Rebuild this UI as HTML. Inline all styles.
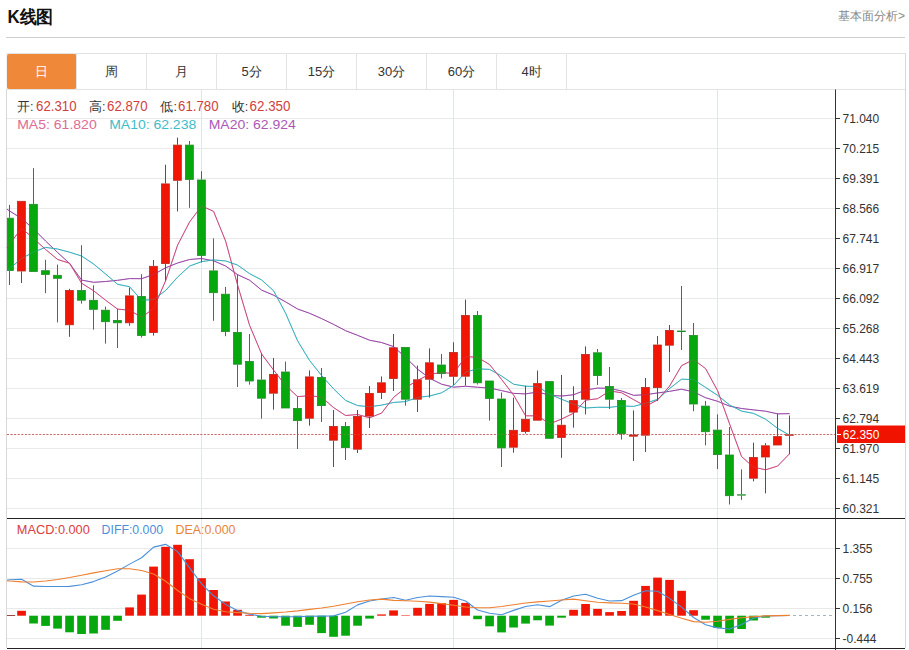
<!DOCTYPE html>
<html><head><meta charset="utf-8"><style>
html,body{margin:0;padding:0;background:#fff;}
body{width:909px;height:650px;overflow:hidden;position:relative;font-family:"Liberation Sans", sans-serif;}
svg{position:absolute;left:0;top:0;}
</style></head><body>
<svg width="909" height="650" viewBox="0 0 909 650" font-family='"Liberation Sans", sans-serif'>
<rect width="909" height="650" fill="#fff"/>
<text x="7.4" y="23" font-size="18" font-weight="bold" fill="#111" textLength="46" lengthAdjust="spacingAndGlyphs">K线图</text>
<text x="905" y="20" font-size="12" fill="#888" text-anchor="end">基本面分析&gt;</text>
<line x1="6" y1="37.5" x2="905" y2="37.5" stroke="#cfcfcf" stroke-width="1"/>
<!-- tabs -->
<rect x="7" y="53.5" width="898.5" height="36" fill="#fff" stroke="#e3e3e3" stroke-width="1"/>
<rect x="7" y="54" width="69.5" height="35" rx="2" fill="#f0883a"/>
<line x1="76.5" y1="54" x2="76.5" y2="89" stroke="#e3e3e3" stroke-width="1"/><line x1="146.5" y1="54" x2="146.5" y2="89" stroke="#e3e3e3" stroke-width="1"/><line x1="216.5" y1="54" x2="216.5" y2="89" stroke="#e3e3e3" stroke-width="1"/><line x1="286.5" y1="54" x2="286.5" y2="89" stroke="#e3e3e3" stroke-width="1"/><line x1="356.5" y1="54" x2="356.5" y2="89" stroke="#e3e3e3" stroke-width="1"/><line x1="426.5" y1="54" x2="426.5" y2="89" stroke="#e3e3e3" stroke-width="1"/><line x1="496.5" y1="54" x2="496.5" y2="89" stroke="#e3e3e3" stroke-width="1"/><line x1="566.5" y1="54" x2="566.5" y2="89" stroke="#e3e3e3" stroke-width="1"/>
<g font-size="13" text-anchor="middle">
<text x="41.5" y="75.8" fill="#fff">日</text>
<text x="111.5" y="75.8" fill="#333">周</text>
<text x="181.5" y="75.8" fill="#333">月</text>
<text x="251.5" y="75.8" fill="#333">5分</text>
<text x="321.5" y="75.8" fill="#333">15分</text>
<text x="391.5" y="75.8" fill="#333">30分</text>
<text x="461.5" y="75.8" fill="#333">60分</text>
<text x="531.5" y="75.8" fill="#333">4时</text>
</g>
<!-- chart frame -->
<line x1="6.5" y1="89.5" x2="6.5" y2="648" stroke="#d8d8d8" stroke-width="1"/>
<line x1="905.5" y1="53" x2="905.5" y2="648" stroke="#d8d8d8" stroke-width="1"/>
<line x1="7" y1="118.5" x2="835" y2="118.5" stroke="#e9e9e9" stroke-width="1"/>
<line x1="7" y1="148.5" x2="835" y2="148.5" stroke="#e9e9e9" stroke-width="1"/>
<line x1="7" y1="178.5" x2="835" y2="178.5" stroke="#e9e9e9" stroke-width="1"/>
<line x1="7" y1="208.5" x2="835" y2="208.5" stroke="#e9e9e9" stroke-width="1"/>
<line x1="7" y1="238.5" x2="835" y2="238.5" stroke="#e9e9e9" stroke-width="1"/>
<line x1="7" y1="268.5" x2="835" y2="268.5" stroke="#e9e9e9" stroke-width="1"/>
<line x1="7" y1="298.5" x2="835" y2="298.5" stroke="#e9e9e9" stroke-width="1"/>
<line x1="7" y1="328.5" x2="835" y2="328.5" stroke="#e9e9e9" stroke-width="1"/>
<line x1="7" y1="358.5" x2="835" y2="358.5" stroke="#e9e9e9" stroke-width="1"/>
<line x1="7" y1="388.5" x2="835" y2="388.5" stroke="#e9e9e9" stroke-width="1"/>
<line x1="7" y1="418.5" x2="835" y2="418.5" stroke="#e9e9e9" stroke-width="1"/>
<line x1="7" y1="448.5" x2="835" y2="448.5" stroke="#e9e9e9" stroke-width="1"/>
<line x1="7" y1="478.5" x2="835" y2="478.5" stroke="#e9e9e9" stroke-width="1"/>
<line x1="7" y1="508.5" x2="835" y2="508.5" stroke="#e9e9e9" stroke-width="1"/>
<line x1="7" y1="548.5" x2="835" y2="548.5" stroke="#e9e9e9" stroke-width="1"/>
<line x1="7" y1="578.5" x2="835" y2="578.5" stroke="#e9e9e9" stroke-width="1"/>
<line x1="7" y1="608.5" x2="835" y2="608.5" stroke="#e9e9e9" stroke-width="1"/>
<line x1="7" y1="638.5" x2="835" y2="638.5" stroke="#e9e9e9" stroke-width="1"/>
<line x1="201.5" y1="90" x2="201.5" y2="648" stroke="#e1e6eb" stroke-width="1"/>
<line x1="453.5" y1="90" x2="453.5" y2="648" stroke="#e1e6eb" stroke-width="1"/>
<line x1="717.5" y1="90" x2="717.5" y2="648" stroke="#e1e6eb" stroke-width="1"/>
<line x1="7" y1="434.5" x2="835" y2="434.5" stroke="#c86a66" stroke-width="1" stroke-dasharray="2,1.58"/>
<polyline points="7,209.2 9.6,211 21.6,218.5 33.6,229 45.6,241 57.6,252.5 69.6,263.5 81.6,280.1 93.6,282.3 105.6,281.5 117.6,280.3 129.6,278.6 141.6,278.7 153.6,274.5 165.6,267.8 177.6,263 189.6,259.5 201.6,258.5 213.6,260.8 225.6,266 237.6,274.68 249.6,280.21 261.6,290.09 273.6,295.19 285.6,301.88 297.6,308.99 309.6,313.31 321.6,318.58 333.6,324.4 345.6,330.69 357.6,335.33 369.6,340.21 381.6,342.53 393.6,346.61 405.6,357.42 417.6,369.15 429.6,378.28 441.6,384.19 453.6,387.13 465.6,386.28 477.6,387.22 489.6,388.08 501.6,390.57 513.6,393.37 525.6,393.89 537.6,392 549.6,395.11 561.6,396.05 573.6,394.76 585.6,390.06 597.6,388.06 609.6,388.39 621.6,390.97 633.6,395.33 645.6,394.7 657.6,392.96 669.6,391.34 681.6,389.24 693.6,391.86 705.6,397.72 717.6,401.31 729.6,406.17 741.6,408.53 753.6,409.89 765.6,411.21 777.6,413.86 789.6,413.64" fill="none" stroke="#9a48a8" stroke-width="1" stroke-linejoin="round"/>
<polyline points="7,270.67 9.6,268.5 21.6,258.5 33.6,252 45.6,247.4 57.6,249 69.6,252.2 81.6,256 93.6,264 105.6,274 117.6,284.28 129.6,286.74 141.6,300.24 153.6,299.64 165.6,290.51 177.6,277.11 189.6,266.09 201.6,261.61 213.6,259.95 225.6,260.94 237.6,265.08 249.6,273.67 261.6,279.94 273.6,290.75 285.6,313.24 297.6,340.87 309.6,360.54 321.6,375.56 333.6,388.85 345.6,400.45 357.6,405.59 369.6,406.75 381.6,405.13 393.6,402.47 405.6,401.59 417.6,397.43 429.6,396.02 441.6,392.82 453.6,385.42 465.6,372.12 477.6,368.84 489.6,369.42 501.6,376.01 513.6,384.26 525.6,386.19 537.6,386.57 549.6,394.2 561.6,399.28 573.6,404.1 585.6,408 597.6,407.28 609.6,407.36 621.6,405.93 633.6,406.4 645.6,403.21 657.6,399.35 669.6,388.48 681.6,379.2 693.6,379.62 705.6,387.43 717.6,395.33 729.6,404.98 741.6,411.14 753.6,413.38 765.6,419.22 777.6,428.38 789.6,435.2" fill="none" stroke="#38b0be" stroke-width="1" stroke-linejoin="round"/>
<polyline points="7,247.4 9.6,244 21.6,228.3 33.6,238.5 45.6,249.5 57.6,259.44 69.6,263.26 81.6,283.2 93.6,290.76 105.6,300.22 117.6,309.12 129.6,310.22 141.6,317.28 153.6,308.52 165.6,280.8 177.6,245.1 189.6,221.96 201.6,205.94 213.6,211.38 225.6,241.08 237.6,285.06 249.6,325.38 261.6,353.94 273.6,370.12 285.6,385.4 297.6,396.68 309.6,395.7 321.6,397.18 333.6,407.58 345.6,415.5 357.6,414.5 369.6,417.8 381.6,413.08 393.6,397.36 405.6,387.68 417.6,380.36 429.6,374.24 441.6,372.56 453.6,373.48 465.6,356.56 477.6,357.32 489.6,364.6 501.6,379.46 513.6,395.04 525.6,415.82 537.6,415.82 549.6,423.8 561.6,419.1 573.6,413.16 585.6,400.18 597.6,398.74 609.6,390.92 621.6,392.76 633.6,399.64 645.6,406.24 657.6,399.96 669.6,386.04 681.6,365.64 693.6,359.6 705.6,368.62 717.6,390.7 729.6,423.92 741.6,456.64 753.6,467.16 765.6,469.82 777.6,466.06 789.6,453.7" fill="none" stroke="#cc4a80" stroke-width="1" stroke-linejoin="round"/>
<g shape-rendering="crispEdges">
</g>
<line x1="9.5" y1="204.9" x2="9.5" y2="217.8" stroke="#1f8a26" stroke-width="1"/>
<line x1="9.5" y1="270.9" x2="9.5" y2="285" stroke="#1f8a26" stroke-width="1"/>
<rect x="7.4" y="218.2" width="5.95" height="52.3" fill="#06a80e" stroke="#1f8a26" stroke-width="0.8"/>
<line x1="21.5" y1="271.4" x2="21.5" y2="283" stroke="#b8281e" stroke-width="1"/>
<rect x="17.5" y="201.3" width="7.85" height="69.7" fill="#f01505" stroke="#b8281e" stroke-width="0.8"/>
<line x1="33.5" y1="168.2" x2="33.5" y2="203.9" stroke="#1f8a26" stroke-width="1"/>
<rect x="29.5" y="204.3" width="7.85" height="67.2" fill="#06a80e" stroke="#1f8a26" stroke-width="0.8"/>
<line x1="45.5" y1="259.8" x2="45.5" y2="270.3" stroke="#1f8a26" stroke-width="1"/>
<line x1="45.5" y1="274.8" x2="45.5" y2="293.1" stroke="#1f8a26" stroke-width="1"/>
<rect x="41.5" y="270.7" width="7.85" height="3.7" fill="#06a80e" stroke="#1f8a26" stroke-width="0.8"/>
<line x1="57.5" y1="264.6" x2="57.5" y2="274.9" stroke="#1f8a26" stroke-width="1"/>
<line x1="57.5" y1="278.7" x2="57.5" y2="322.4" stroke="#1f8a26" stroke-width="1"/>
<rect x="53.5" y="275.3" width="7.85" height="3" fill="#06a80e" stroke="#1f8a26" stroke-width="0.8"/>
<line x1="69.5" y1="288.8" x2="69.5" y2="290" stroke="#b8281e" stroke-width="1"/>
<line x1="69.5" y1="325.2" x2="69.5" y2="336.8" stroke="#b8281e" stroke-width="1"/>
<rect x="65.5" y="290.4" width="7.85" height="34.4" fill="#f01505" stroke="#b8281e" stroke-width="0.8"/>
<line x1="81.5" y1="245.2" x2="81.5" y2="290.1" stroke="#1f8a26" stroke-width="1"/>
<line x1="81.5" y1="300.6" x2="81.5" y2="303.6" stroke="#1f8a26" stroke-width="1"/>
<rect x="77.5" y="290.5" width="7.85" height="9.7" fill="#06a80e" stroke="#1f8a26" stroke-width="0.8"/>
<line x1="93.5" y1="285.3" x2="93.5" y2="299.9" stroke="#1f8a26" stroke-width="1"/>
<line x1="93.5" y1="309.7" x2="93.5" y2="329.7" stroke="#1f8a26" stroke-width="1"/>
<rect x="89.5" y="300.3" width="7.85" height="9" fill="#06a80e" stroke="#1f8a26" stroke-width="0.8"/>
<line x1="105.5" y1="306.6" x2="105.5" y2="309.8" stroke="#1f8a26" stroke-width="1"/>
<line x1="105.5" y1="322.1" x2="105.5" y2="343.6" stroke="#1f8a26" stroke-width="1"/>
<rect x="101.5" y="310.2" width="7.85" height="11.5" fill="#06a80e" stroke="#1f8a26" stroke-width="0.8"/>
<line x1="117.5" y1="308.8" x2="117.5" y2="320" stroke="#1f8a26" stroke-width="1"/>
<line x1="117.5" y1="323.2" x2="117.5" y2="348" stroke="#1f8a26" stroke-width="1"/>
<rect x="113.5" y="320.4" width="7.85" height="2.4" fill="#06a80e" stroke="#1f8a26" stroke-width="0.8"/>
<line x1="129.5" y1="287.6" x2="129.5" y2="295.5" stroke="#b8281e" stroke-width="1"/>
<line x1="129.5" y1="323.2" x2="129.5" y2="325.8" stroke="#b8281e" stroke-width="1"/>
<rect x="125.5" y="295.9" width="7.85" height="26.9" fill="#f01505" stroke="#b8281e" stroke-width="0.8"/>
<line x1="141.5" y1="274.2" x2="141.5" y2="296" stroke="#1f8a26" stroke-width="1"/>
<line x1="141.5" y1="335.9" x2="141.5" y2="337.5" stroke="#1f8a26" stroke-width="1"/>
<rect x="137.5" y="296.4" width="7.85" height="39.1" fill="#06a80e" stroke="#1f8a26" stroke-width="0.8"/>
<line x1="153.5" y1="260" x2="153.5" y2="265.9" stroke="#b8281e" stroke-width="1"/>
<line x1="153.5" y1="333" x2="153.5" y2="335.6" stroke="#b8281e" stroke-width="1"/>
<rect x="149.5" y="266.3" width="7.85" height="66.3" fill="#f01505" stroke="#b8281e" stroke-width="0.8"/>
<line x1="165.5" y1="164.7" x2="165.5" y2="183.5" stroke="#b8281e" stroke-width="1"/>
<line x1="165.5" y1="264" x2="165.5" y2="280.8" stroke="#b8281e" stroke-width="1"/>
<rect x="161.5" y="183.9" width="7.85" height="79.7" fill="#f01505" stroke="#b8281e" stroke-width="0.8"/>
<line x1="177.5" y1="137.6" x2="177.5" y2="144.7" stroke="#b8281e" stroke-width="1"/>
<line x1="177.5" y1="180.7" x2="177.5" y2="211.5" stroke="#b8281e" stroke-width="1"/>
<rect x="173.5" y="145.1" width="7.85" height="35.2" fill="#f01505" stroke="#b8281e" stroke-width="0.8"/>
<line x1="189.5" y1="141" x2="189.5" y2="144.7" stroke="#1f8a26" stroke-width="1"/>
<line x1="189.5" y1="179.8" x2="189.5" y2="207.8" stroke="#1f8a26" stroke-width="1"/>
<rect x="185.5" y="145.1" width="7.85" height="34.3" fill="#06a80e" stroke="#1f8a26" stroke-width="0.8"/>
<line x1="201.5" y1="171.2" x2="201.5" y2="179.6" stroke="#1f8a26" stroke-width="1"/>
<line x1="201.5" y1="255.8" x2="201.5" y2="262.5" stroke="#1f8a26" stroke-width="1"/>
<rect x="197.5" y="180" width="7.85" height="75.4" fill="#06a80e" stroke="#1f8a26" stroke-width="0.8"/>
<line x1="213.5" y1="238.4" x2="213.5" y2="270.5" stroke="#1f8a26" stroke-width="1"/>
<line x1="213.5" y1="293.1" x2="213.5" y2="320.8" stroke="#1f8a26" stroke-width="1"/>
<rect x="209.5" y="270.9" width="7.85" height="21.8" fill="#06a80e" stroke="#1f8a26" stroke-width="0.8"/>
<line x1="225.5" y1="286.9" x2="225.5" y2="293.8" stroke="#1f8a26" stroke-width="1"/>
<line x1="225.5" y1="332" x2="225.5" y2="336.2" stroke="#1f8a26" stroke-width="1"/>
<rect x="221.5" y="294.2" width="7.85" height="37.4" fill="#06a80e" stroke="#1f8a26" stroke-width="0.8"/>
<line x1="237.5" y1="274.6" x2="237.5" y2="332" stroke="#1f8a26" stroke-width="1"/>
<line x1="237.5" y1="364.6" x2="237.5" y2="387" stroke="#1f8a26" stroke-width="1"/>
<rect x="233.5" y="332.4" width="7.85" height="31.8" fill="#06a80e" stroke="#1f8a26" stroke-width="0.8"/>
<line x1="249.5" y1="334" x2="249.5" y2="361" stroke="#1f8a26" stroke-width="1"/>
<line x1="249.5" y1="381.4" x2="249.5" y2="384.6" stroke="#1f8a26" stroke-width="1"/>
<rect x="245.5" y="361.4" width="7.85" height="19.6" fill="#06a80e" stroke="#1f8a26" stroke-width="0.8"/>
<line x1="261.5" y1="353" x2="261.5" y2="379.6" stroke="#1f8a26" stroke-width="1"/>
<line x1="261.5" y1="398.6" x2="261.5" y2="418.6" stroke="#1f8a26" stroke-width="1"/>
<rect x="257.5" y="380" width="7.85" height="18.2" fill="#06a80e" stroke="#1f8a26" stroke-width="0.8"/>
<line x1="273.5" y1="358" x2="273.5" y2="374" stroke="#b8281e" stroke-width="1"/>
<line x1="273.5" y1="393.6" x2="273.5" y2="409.6" stroke="#b8281e" stroke-width="1"/>
<rect x="269.5" y="374.4" width="7.85" height="18.8" fill="#f01505" stroke="#b8281e" stroke-width="0.8"/>
<line x1="285.5" y1="361.6" x2="285.5" y2="371.6" stroke="#1f8a26" stroke-width="1"/>
<rect x="281.5" y="372" width="7.85" height="36" fill="#06a80e" stroke="#1f8a26" stroke-width="0.8"/>
<line x1="297.5" y1="396.5" x2="297.5" y2="408" stroke="#1f8a26" stroke-width="1"/>
<line x1="297.5" y1="421" x2="297.5" y2="449" stroke="#1f8a26" stroke-width="1"/>
<rect x="293.5" y="408.4" width="7.85" height="12.2" fill="#06a80e" stroke="#1f8a26" stroke-width="0.8"/>
<line x1="309.5" y1="370.4" x2="309.5" y2="376.5" stroke="#b8281e" stroke-width="1"/>
<line x1="309.5" y1="418.6" x2="309.5" y2="425.6" stroke="#b8281e" stroke-width="1"/>
<rect x="305.5" y="376.9" width="7.85" height="41.3" fill="#f01505" stroke="#b8281e" stroke-width="0.8"/>
<line x1="321.5" y1="368" x2="321.5" y2="377" stroke="#1f8a26" stroke-width="1"/>
<line x1="321.5" y1="406" x2="321.5" y2="422" stroke="#1f8a26" stroke-width="1"/>
<rect x="317.5" y="377.4" width="7.85" height="28.2" fill="#06a80e" stroke="#1f8a26" stroke-width="0.8"/>
<line x1="333.5" y1="410" x2="333.5" y2="426" stroke="#b8281e" stroke-width="1"/>
<line x1="333.5" y1="440.6" x2="333.5" y2="467" stroke="#b8281e" stroke-width="1"/>
<rect x="329.5" y="426.4" width="7.85" height="13.8" fill="#f01505" stroke="#b8281e" stroke-width="0.8"/>
<line x1="345.5" y1="422" x2="345.5" y2="426" stroke="#1f8a26" stroke-width="1"/>
<line x1="345.5" y1="448" x2="345.5" y2="460" stroke="#1f8a26" stroke-width="1"/>
<rect x="341.5" y="426.4" width="7.85" height="21.2" fill="#06a80e" stroke="#1f8a26" stroke-width="0.8"/>
<line x1="357.5" y1="410" x2="357.5" y2="416" stroke="#b8281e" stroke-width="1"/>
<line x1="357.5" y1="449.6" x2="357.5" y2="453" stroke="#b8281e" stroke-width="1"/>
<rect x="353.5" y="416.4" width="7.85" height="32.8" fill="#f01505" stroke="#b8281e" stroke-width="0.8"/>
<line x1="369.5" y1="386" x2="369.5" y2="393" stroke="#b8281e" stroke-width="1"/>
<line x1="369.5" y1="416.5" x2="369.5" y2="428" stroke="#b8281e" stroke-width="1"/>
<rect x="365.5" y="393.4" width="7.85" height="22.7" fill="#f01505" stroke="#b8281e" stroke-width="0.8"/>
<line x1="381.5" y1="376.4" x2="381.5" y2="382.4" stroke="#b8281e" stroke-width="1"/>
<line x1="381.5" y1="393" x2="381.5" y2="399" stroke="#b8281e" stroke-width="1"/>
<rect x="377.5" y="382.8" width="7.85" height="9.8" fill="#f01505" stroke="#b8281e" stroke-width="0.8"/>
<line x1="393.5" y1="334" x2="393.5" y2="347.4" stroke="#b8281e" stroke-width="1"/>
<line x1="393.5" y1="379" x2="393.5" y2="391" stroke="#b8281e" stroke-width="1"/>
<rect x="389.5" y="347.8" width="7.85" height="30.8" fill="#f01505" stroke="#b8281e" stroke-width="0.8"/>
<line x1="405.5" y1="399.6" x2="405.5" y2="405.6" stroke="#1f8a26" stroke-width="1"/>
<rect x="401.5" y="347.4" width="7.85" height="51.8" fill="#06a80e" stroke="#1f8a26" stroke-width="0.8"/>
<line x1="417.5" y1="365.6" x2="417.5" y2="379.4" stroke="#b8281e" stroke-width="1"/>
<line x1="417.5" y1="399.6" x2="417.5" y2="412" stroke="#b8281e" stroke-width="1"/>
<rect x="413.5" y="379.8" width="7.85" height="19.4" fill="#f01505" stroke="#b8281e" stroke-width="0.8"/>
<line x1="429.5" y1="348.4" x2="429.5" y2="362.4" stroke="#b8281e" stroke-width="1"/>
<line x1="429.5" y1="379.6" x2="429.5" y2="397.6" stroke="#b8281e" stroke-width="1"/>
<rect x="425.5" y="362.8" width="7.85" height="16.4" fill="#f01505" stroke="#b8281e" stroke-width="0.8"/>
<line x1="441.5" y1="354" x2="441.5" y2="364.6" stroke="#1f8a26" stroke-width="1"/>
<line x1="441.5" y1="374" x2="441.5" y2="378.4" stroke="#1f8a26" stroke-width="1"/>
<rect x="437.5" y="365" width="7.85" height="8.6" fill="#06a80e" stroke="#1f8a26" stroke-width="0.8"/>
<line x1="453.5" y1="342.2" x2="453.5" y2="352" stroke="#b8281e" stroke-width="1"/>
<line x1="453.5" y1="376.7" x2="453.5" y2="385" stroke="#b8281e" stroke-width="1"/>
<rect x="449.5" y="352.4" width="7.85" height="23.9" fill="#f01505" stroke="#b8281e" stroke-width="0.8"/>
<line x1="465.5" y1="299.6" x2="465.5" y2="315" stroke="#b8281e" stroke-width="1"/>
<line x1="465.5" y1="376.6" x2="465.5" y2="385.6" stroke="#b8281e" stroke-width="1"/>
<rect x="461.5" y="315.4" width="7.85" height="60.8" fill="#f01505" stroke="#b8281e" stroke-width="0.8"/>
<line x1="477.5" y1="311" x2="477.5" y2="315" stroke="#1f8a26" stroke-width="1"/>
<line x1="477.5" y1="383.2" x2="477.5" y2="384.5" stroke="#1f8a26" stroke-width="1"/>
<rect x="473.5" y="315.4" width="7.85" height="67.4" fill="#06a80e" stroke="#1f8a26" stroke-width="0.8"/>
<line x1="489.5" y1="398.8" x2="489.5" y2="420.6" stroke="#1f8a26" stroke-width="1"/>
<rect x="485.5" y="381" width="7.85" height="17.4" fill="#06a80e" stroke="#1f8a26" stroke-width="0.8"/>
<line x1="501.5" y1="392.5" x2="501.5" y2="398.6" stroke="#1f8a26" stroke-width="1"/>
<line x1="501.5" y1="448.3" x2="501.5" y2="467" stroke="#1f8a26" stroke-width="1"/>
<rect x="497.5" y="399" width="7.85" height="48.9" fill="#06a80e" stroke="#1f8a26" stroke-width="0.8"/>
<line x1="513.5" y1="397.6" x2="513.5" y2="429.9" stroke="#b8281e" stroke-width="1"/>
<line x1="513.5" y1="447.6" x2="513.5" y2="452.7" stroke="#b8281e" stroke-width="1"/>
<rect x="509.5" y="430.3" width="7.85" height="16.9" fill="#f01505" stroke="#b8281e" stroke-width="0.8"/>
<line x1="525.5" y1="385.7" x2="525.5" y2="418.9" stroke="#b8281e" stroke-width="1"/>
<line x1="525.5" y1="431.9" x2="525.5" y2="433.6" stroke="#b8281e" stroke-width="1"/>
<rect x="521.5" y="419.3" width="7.85" height="12.2" fill="#f01505" stroke="#b8281e" stroke-width="0.8"/>
<line x1="537.5" y1="370.5" x2="537.5" y2="383.2" stroke="#b8281e" stroke-width="1"/>
<rect x="533.5" y="383.6" width="7.85" height="36.6" fill="#f01505" stroke="#b8281e" stroke-width="0.8"/>
<rect x="545.5" y="381.6" width="7.85" height="56.7" fill="#06a80e" stroke="#1f8a26" stroke-width="0.8"/>
<line x1="561.5" y1="374.9" x2="561.5" y2="424.8" stroke="#b8281e" stroke-width="1"/>
<line x1="561.5" y1="437.8" x2="561.5" y2="457.8" stroke="#b8281e" stroke-width="1"/>
<rect x="557.5" y="425.2" width="7.85" height="12.2" fill="#f01505" stroke="#b8281e" stroke-width="0.8"/>
<line x1="573.5" y1="386.3" x2="573.5" y2="400.2" stroke="#b8281e" stroke-width="1"/>
<line x1="573.5" y1="412.5" x2="573.5" y2="427.7" stroke="#b8281e" stroke-width="1"/>
<rect x="569.5" y="400.6" width="7.85" height="11.5" fill="#f01505" stroke="#b8281e" stroke-width="0.8"/>
<line x1="585.5" y1="346.4" x2="585.5" y2="354" stroke="#b8281e" stroke-width="1"/>
<line x1="585.5" y1="399.6" x2="585.5" y2="414.4" stroke="#b8281e" stroke-width="1"/>
<rect x="581.5" y="354.4" width="7.85" height="44.8" fill="#f01505" stroke="#b8281e" stroke-width="0.8"/>
<line x1="597.5" y1="349" x2="597.5" y2="352.4" stroke="#1f8a26" stroke-width="1"/>
<line x1="597.5" y1="376" x2="597.5" y2="385" stroke="#1f8a26" stroke-width="1"/>
<rect x="593.5" y="352.8" width="7.85" height="22.8" fill="#06a80e" stroke="#1f8a26" stroke-width="0.8"/>
<line x1="609.5" y1="367" x2="609.5" y2="386" stroke="#1f8a26" stroke-width="1"/>
<line x1="609.5" y1="399.6" x2="609.5" y2="409" stroke="#1f8a26" stroke-width="1"/>
<rect x="605.5" y="386.4" width="7.85" height="12.8" fill="#06a80e" stroke="#1f8a26" stroke-width="0.8"/>
<line x1="621.5" y1="398" x2="621.5" y2="400" stroke="#1f8a26" stroke-width="1"/>
<line x1="621.5" y1="434" x2="621.5" y2="439.6" stroke="#1f8a26" stroke-width="1"/>
<rect x="617.5" y="400.4" width="7.85" height="33.2" fill="#06a80e" stroke="#1f8a26" stroke-width="0.8"/>
<line x1="633.5" y1="410.4" x2="633.5" y2="434.6" stroke="#b8281e" stroke-width="1"/>
<line x1="633.5" y1="436.6" x2="633.5" y2="461" stroke="#b8281e" stroke-width="1"/>
<rect x="629.5" y="435" width="7.85" height="1.2" fill="#f01505" stroke="#b8281e" stroke-width="0.8"/>
<line x1="645.5" y1="378" x2="645.5" y2="387" stroke="#b8281e" stroke-width="1"/>
<line x1="645.5" y1="435.6" x2="645.5" y2="452" stroke="#b8281e" stroke-width="1"/>
<rect x="641.5" y="387.4" width="7.85" height="47.8" fill="#f01505" stroke="#b8281e" stroke-width="0.8"/>
<line x1="657.5" y1="336" x2="657.5" y2="344.6" stroke="#b8281e" stroke-width="1"/>
<line x1="657.5" y1="388" x2="657.5" y2="401" stroke="#b8281e" stroke-width="1"/>
<rect x="653.5" y="345" width="7.85" height="42.6" fill="#f01505" stroke="#b8281e" stroke-width="0.8"/>
<line x1="669.5" y1="325" x2="669.5" y2="330" stroke="#b8281e" stroke-width="1"/>
<line x1="669.5" y1="345.6" x2="669.5" y2="372" stroke="#b8281e" stroke-width="1"/>
<rect x="665.5" y="330.4" width="7.85" height="14.8" fill="#f01505" stroke="#b8281e" stroke-width="0.8"/>
<line x1="681.5" y1="286" x2="681.5" y2="330.6" stroke="#1f8a26" stroke-width="1"/>
<line x1="681.5" y1="332" x2="681.5" y2="350" stroke="#1f8a26" stroke-width="1"/>
<rect x="677.1" y="330.6" width="8.65" height="1.4" fill="#1f8a26"/>
<line x1="693.5" y1="323" x2="693.5" y2="335" stroke="#1f8a26" stroke-width="1"/>
<line x1="693.5" y1="404.4" x2="693.5" y2="411.2" stroke="#1f8a26" stroke-width="1"/>
<rect x="689.5" y="335.4" width="7.85" height="68.6" fill="#06a80e" stroke="#1f8a26" stroke-width="0.8"/>
<line x1="705.5" y1="401" x2="705.5" y2="405.7" stroke="#1f8a26" stroke-width="1"/>
<line x1="705.5" y1="432.1" x2="705.5" y2="445.4" stroke="#1f8a26" stroke-width="1"/>
<rect x="701.5" y="406.1" width="7.85" height="25.6" fill="#06a80e" stroke="#1f8a26" stroke-width="0.8"/>
<line x1="717.5" y1="414.4" x2="717.5" y2="429.7" stroke="#1f8a26" stroke-width="1"/>
<line x1="717.5" y1="455" x2="717.5" y2="469" stroke="#1f8a26" stroke-width="1"/>
<rect x="713.5" y="430.1" width="7.85" height="24.5" fill="#06a80e" stroke="#1f8a26" stroke-width="0.8"/>
<line x1="729.5" y1="427" x2="729.5" y2="454.6" stroke="#1f8a26" stroke-width="1"/>
<line x1="729.5" y1="496.1" x2="729.5" y2="504.5" stroke="#1f8a26" stroke-width="1"/>
<rect x="725.5" y="455" width="7.85" height="40.7" fill="#06a80e" stroke="#1f8a26" stroke-width="0.8"/>
<line x1="741.5" y1="469.4" x2="741.5" y2="494.3" stroke="#1f8a26" stroke-width="1"/>
<line x1="741.5" y1="495.6" x2="741.5" y2="499.8" stroke="#1f8a26" stroke-width="1"/>
<rect x="737.1" y="494.3" width="8.65" height="1.3" fill="#1f8a26"/>
<line x1="753.5" y1="442.6" x2="753.5" y2="457" stroke="#b8281e" stroke-width="1"/>
<line x1="753.5" y1="478.6" x2="753.5" y2="481.4" stroke="#b8281e" stroke-width="1"/>
<rect x="749.5" y="457.4" width="7.85" height="20.8" fill="#f01505" stroke="#b8281e" stroke-width="0.8"/>
<line x1="765.5" y1="443.2" x2="765.5" y2="445.4" stroke="#b8281e" stroke-width="1"/>
<line x1="765.5" y1="457.4" x2="765.5" y2="493.4" stroke="#b8281e" stroke-width="1"/>
<rect x="761.5" y="445.8" width="7.85" height="11.2" fill="#f01505" stroke="#b8281e" stroke-width="0.8"/>
<line x1="777.5" y1="413.6" x2="777.5" y2="436.2" stroke="#b8281e" stroke-width="1"/>
<rect x="773.5" y="436.6" width="7.85" height="8.4" fill="#f01505" stroke="#b8281e" stroke-width="0.8"/>
<line x1="789.5" y1="415.5" x2="789.5" y2="434.3" stroke="#b8281e" stroke-width="1"/>
<line x1="789.5" y1="435.8" x2="789.5" y2="454.2" stroke="#b8281e" stroke-width="1"/>
<rect x="785.1" y="434.3" width="8.65" height="1.5" fill="#b8281e"/>
<g opacity="0.35">
<polyline points="7,209.2 9.6,211 21.6,218.5 33.6,229 45.6,241 57.6,252.5 69.6,263.5 81.6,280.1 93.6,282.3 105.6,281.5 117.6,280.3 129.6,278.6 141.6,278.7 153.6,274.5 165.6,267.8 177.6,263 189.6,259.5 201.6,258.5 213.6,260.8 225.6,266 237.6,274.68 249.6,280.21 261.6,290.09 273.6,295.19 285.6,301.88 297.6,308.99 309.6,313.31 321.6,318.58 333.6,324.4 345.6,330.69 357.6,335.33 369.6,340.21 381.6,342.53 393.6,346.61 405.6,357.42 417.6,369.15 429.6,378.28 441.6,384.19 453.6,387.13 465.6,386.28 477.6,387.22 489.6,388.08 501.6,390.57 513.6,393.37 525.6,393.89 537.6,392 549.6,395.11 561.6,396.05 573.6,394.76 585.6,390.06 597.6,388.06 609.6,388.39 621.6,390.97 633.6,395.33 645.6,394.7 657.6,392.96 669.6,391.34 681.6,389.24 693.6,391.86 705.6,397.72 717.6,401.31 729.6,406.17 741.6,408.53 753.6,409.89 765.6,411.21 777.6,413.86 789.6,413.64" fill="none" stroke="#9a48a8" stroke-width="1" stroke-linejoin="round"/>
<polyline points="7,270.67 9.6,268.5 21.6,258.5 33.6,252 45.6,247.4 57.6,249 69.6,252.2 81.6,256 93.6,264 105.6,274 117.6,284.28 129.6,286.74 141.6,300.24 153.6,299.64 165.6,290.51 177.6,277.11 189.6,266.09 201.6,261.61 213.6,259.95 225.6,260.94 237.6,265.08 249.6,273.67 261.6,279.94 273.6,290.75 285.6,313.24 297.6,340.87 309.6,360.54 321.6,375.56 333.6,388.85 345.6,400.45 357.6,405.59 369.6,406.75 381.6,405.13 393.6,402.47 405.6,401.59 417.6,397.43 429.6,396.02 441.6,392.82 453.6,385.42 465.6,372.12 477.6,368.84 489.6,369.42 501.6,376.01 513.6,384.26 525.6,386.19 537.6,386.57 549.6,394.2 561.6,399.28 573.6,404.1 585.6,408 597.6,407.28 609.6,407.36 621.6,405.93 633.6,406.4 645.6,403.21 657.6,399.35 669.6,388.48 681.6,379.2 693.6,379.62 705.6,387.43 717.6,395.33 729.6,404.98 741.6,411.14 753.6,413.38 765.6,419.22 777.6,428.38 789.6,435.2" fill="none" stroke="#38b0be" stroke-width="1" stroke-linejoin="round"/>
<polyline points="7,247.4 9.6,244 21.6,228.3 33.6,238.5 45.6,249.5 57.6,259.44 69.6,263.26 81.6,283.2 93.6,290.76 105.6,300.22 117.6,309.12 129.6,310.22 141.6,317.28 153.6,308.52 165.6,280.8 177.6,245.1 189.6,221.96 201.6,205.94 213.6,211.38 225.6,241.08 237.6,285.06 249.6,325.38 261.6,353.94 273.6,370.12 285.6,385.4 297.6,396.68 309.6,395.7 321.6,397.18 333.6,407.58 345.6,415.5 357.6,414.5 369.6,417.8 381.6,413.08 393.6,397.36 405.6,387.68 417.6,380.36 429.6,374.24 441.6,372.56 453.6,373.48 465.6,356.56 477.6,357.32 489.6,364.6 501.6,379.46 513.6,395.04 525.6,415.82 537.6,415.82 549.6,423.8 561.6,419.1 573.6,413.16 585.6,400.18 597.6,398.74 609.6,390.92 621.6,392.76 633.6,399.64 645.6,406.24 657.6,399.96 669.6,386.04 681.6,365.64 693.6,359.6 705.6,368.62 717.6,390.7 729.6,423.92 741.6,456.64 753.6,467.16 765.6,469.82 777.6,466.06 789.6,453.7" fill="none" stroke="#cc4a80" stroke-width="1" stroke-linejoin="round"/>
</g>
<line x1="7" y1="434.5" x2="835" y2="434.5" stroke="#c86a66" stroke-width="1" stroke-dasharray="2,1.58" opacity="0.35"/>
<rect x="7" y="615" width="8.2" height="1" fill="#9a4a40"/>
<rect x="17.2" y="610.8" width="8.7" height="4.9" fill="#f01505"/>
<rect x="29.2" y="615.7" width="8.7" height="7.8" fill="#06a80e"/>
<rect x="41.2" y="615.7" width="8.7" height="10.2" fill="#06a80e"/>
<rect x="53.2" y="615.7" width="8.7" height="12.9" fill="#06a80e"/>
<rect x="65.2" y="615.7" width="8.7" height="16.6" fill="#06a80e"/>
<rect x="77.2" y="615.7" width="8.7" height="18.3" fill="#06a80e"/>
<rect x="89.2" y="615.7" width="8.7" height="17.8" fill="#06a80e"/>
<rect x="101.2" y="615.7" width="8.7" height="14.1" fill="#06a80e"/>
<rect x="113.2" y="615.7" width="8.7" height="5.1" fill="#06a80e"/>
<rect x="125.2" y="607.4" width="8.7" height="8.3" fill="#f01505"/>
<rect x="137.2" y="594.6" width="8.7" height="21.1" fill="#f01505"/>
<rect x="149.2" y="566.6" width="8.7" height="49.1" fill="#f01505"/>
<rect x="161.2" y="546.8" width="8.7" height="68.9" fill="#f01505"/>
<rect x="173.2" y="544.8" width="8.7" height="70.9" fill="#f01505"/>
<rect x="185.2" y="559.2" width="8.7" height="56.5" fill="#f01505"/>
<rect x="197.2" y="578.2" width="8.7" height="37.5" fill="#f01505"/>
<rect x="209.2" y="590" width="8.7" height="25.7" fill="#f01505"/>
<rect x="221.2" y="601.5" width="8.7" height="14.2" fill="#f01505"/>
<rect x="233.2" y="609.8" width="8.7" height="5.9" fill="#f01505"/>
<rect x="245.2" y="614.8" width="8.7" height="0.9" fill="#f01505"/>
<rect x="257.2" y="615.7" width="8.7" height="2" fill="#06a80e"/>
<rect x="269.2" y="615.7" width="8.7" height="2.8" fill="#06a80e"/>
<rect x="281.2" y="615.7" width="8.7" height="10" fill="#06a80e"/>
<rect x="293.2" y="615.7" width="8.7" height="11.2" fill="#06a80e"/>
<rect x="305.2" y="615.7" width="8.7" height="9.1" fill="#06a80e"/>
<rect x="317.2" y="615.7" width="8.7" height="17.4" fill="#06a80e"/>
<rect x="329.2" y="615.7" width="8.7" height="21.1" fill="#06a80e"/>
<rect x="341.2" y="615.7" width="8.7" height="20" fill="#06a80e"/>
<rect x="353.2" y="615.7" width="8.7" height="10" fill="#06a80e"/>
<rect x="365.2" y="615.7" width="8.7" height="2.9" fill="#06a80e"/>
<rect x="377.2" y="614.4" width="8.7" height="1.3" fill="#f01505"/>
<rect x="389.2" y="610.4" width="8.7" height="5.3" fill="#f01505"/>
<rect x="401.2" y="615.2" width="8.7" height="0.5" fill="#f01505"/>
<rect x="413.2" y="607.8" width="8.7" height="7.9" fill="#f01505"/>
<rect x="425.2" y="603.9" width="8.7" height="11.8" fill="#f01505"/>
<rect x="437.2" y="603.1" width="8.7" height="12.6" fill="#f01505"/>
<rect x="449.2" y="599.9" width="8.7" height="15.8" fill="#f01505"/>
<rect x="461.2" y="602.9" width="8.7" height="12.8" fill="#f01505"/>
<rect x="473.2" y="615.7" width="8.7" height="3.5" fill="#06a80e"/>
<rect x="485.2" y="615.7" width="8.7" height="10.6" fill="#06a80e"/>
<rect x="497.2" y="615.7" width="8.7" height="16.7" fill="#06a80e"/>
<rect x="509.2" y="615.7" width="8.7" height="11.8" fill="#06a80e"/>
<rect x="521.2" y="615.7" width="8.7" height="7.9" fill="#06a80e"/>
<rect x="533.2" y="615.7" width="8.7" height="4.6" fill="#06a80e"/>
<rect x="545.2" y="615.7" width="8.7" height="9.9" fill="#06a80e"/>
<rect x="557.2" y="615.7" width="8.7" height="2" fill="#06a80e"/>
<rect x="569.2" y="609.8" width="8.7" height="5.9" fill="#f01505"/>
<rect x="581.2" y="604" width="8.7" height="11.7" fill="#f01505"/>
<rect x="593.2" y="608.9" width="8.7" height="6.8" fill="#f01505"/>
<rect x="605.2" y="612.1" width="8.7" height="3.6" fill="#f01505"/>
<rect x="617.2" y="611" width="8.7" height="4.7" fill="#f01505"/>
<rect x="629.2" y="600.8" width="8.7" height="14.9" fill="#f01505"/>
<rect x="641.2" y="585.9" width="8.7" height="29.8" fill="#f01505"/>
<rect x="653.2" y="577.6" width="8.7" height="38.1" fill="#f01505"/>
<rect x="665.2" y="579.9" width="8.7" height="35.8" fill="#f01505"/>
<rect x="677.2" y="590.8" width="8.7" height="24.9" fill="#f01505"/>
<rect x="689.2" y="610.2" width="8.7" height="5.5" fill="#f01505"/>
<rect x="701.2" y="615.7" width="8.7" height="4" fill="#06a80e"/>
<rect x="713.2" y="615.7" width="8.7" height="12.1" fill="#06a80e"/>
<rect x="725.2" y="615.7" width="8.7" height="17.5" fill="#06a80e"/>
<rect x="737.2" y="615.7" width="8.7" height="13.3" fill="#06a80e"/>
<rect x="749.2" y="615.7" width="8.7" height="4.8" fill="#06a80e"/>
<rect x="761.2" y="615.7" width="8.7" height="2" fill="#06a80e"/>
<polyline points="7,580.34 9.6,579.7 21.6,579.23 33.6,586.17 45.6,586.56 57.6,586.56 69.6,586.34 81.6,584.75 93.6,581.61 105.6,577.05 117.6,570.98 129.6,564.12 141.6,557.72 153.6,547.12 165.6,544.34 177.6,551.63 189.6,567.91 201.6,583.93 213.6,595.8 225.6,604.41 237.6,610.44 249.6,614.16 261.6,616.26 273.6,616.69 285.6,616.7 297.6,616.65 309.6,616.32 321.6,616.12 333.6,615.88 345.6,612.29 357.6,604.86 369.6,600.95 381.6,598.96 393.6,597.48 405.6,600.2 417.6,597.43 429.6,596.07 441.6,596.64 453.6,597.32 465.6,600.96 477.6,610.03 489.6,613.3 501.6,614.77 513.6,610.37 525.6,606.58 537.6,604.68 549.6,606.64 561.6,600.29 573.6,596.08 585.6,594.33 597.6,598.25 609.6,600.98 621.6,600.66 633.6,595.21 645.6,590.8 657.6,591.26 669.6,598.38 681.6,607.08 693.6,617.49 705.6,624.66 717.6,627.86 729.6,628.96 741.6,624.4 753.6,618.06 765.6,615.98 777.6,615.74 789.6,615.5" fill="none" stroke="#4a90d9" stroke-width="1.1" stroke-linejoin="round"/>
<polyline points="7,580.73 9.6,581.03 21.6,581.85 33.6,581.98 45.6,581 57.6,579.52 69.6,577.56 81.6,575.2 93.6,572.87 105.6,570.8 117.6,568.82 129.6,568.8 141.6,570.5 153.6,574.09 165.6,581.21 177.6,590.46 189.6,598.65 201.6,604.18 213.6,609.17 225.6,611.69 237.6,612.62 249.6,613.32 261.6,613.63 273.6,612.9 285.6,612.04 297.6,610.89 309.6,609.4 321.6,608.03 333.6,606.28 345.6,604 357.6,601.67 369.6,599.96 381.6,599.12 393.6,600.37 405.6,600.73 417.6,601.24 429.6,602.1 441.6,603.65 453.6,605.19 465.6,606.99 477.6,607.8 489.6,607.73 501.6,606.45 513.6,604.68 525.6,602.99 537.6,601.86 549.6,601.04 561.6,600.06 573.6,599.16 585.6,600.7 597.6,602.3 609.6,602.85 621.6,603.19 633.6,603.97 645.6,607.02 657.6,610.62 669.6,614.6 681.6,618.34 693.6,621.65 705.6,622.23 717.6,621.32 729.6,619.39 741.6,617.74 753.6,616.63 765.6,615.9 777.6,615.64 789.6,615.4" fill="none" stroke="#ee8030" stroke-width="1.1" stroke-linejoin="round"/>
<line x1="793" y1="615.5" x2="835" y2="615.5" stroke="#a9b6bf" stroke-width="1" stroke-dasharray="3,3"/>
<line x1="7" y1="518.5" x2="905" y2="518.5" stroke="#222" stroke-width="1"/>
<line x1="7" y1="648.5" x2="905" y2="648.5" stroke="#222" stroke-width="1"/>
<line x1="835.5" y1="89.5" x2="835.5" y2="650" stroke="#333" stroke-width="1"/>
<g font-size="12.8" fill="#333">
<line x1="836" y1="118.5" x2="840" y2="118.5" stroke="#333" stroke-width="1"/><text x="842.5" y="122.9" textLength="36.7" lengthAdjust="spacingAndGlyphs">71.040</text><line x1="836" y1="148.5" x2="840" y2="148.5" stroke="#333" stroke-width="1"/><text x="842.5" y="152.9" textLength="36.7" lengthAdjust="spacingAndGlyphs">70.215</text><line x1="836" y1="178.5" x2="840" y2="178.5" stroke="#333" stroke-width="1"/><text x="842.5" y="182.9" textLength="36.7" lengthAdjust="spacingAndGlyphs">69.391</text><line x1="836" y1="208.5" x2="840" y2="208.5" stroke="#333" stroke-width="1"/><text x="842.5" y="212.9" textLength="36.7" lengthAdjust="spacingAndGlyphs">68.566</text><line x1="836" y1="238.5" x2="840" y2="238.5" stroke="#333" stroke-width="1"/><text x="842.5" y="242.9" textLength="36.7" lengthAdjust="spacingAndGlyphs">67.741</text><line x1="836" y1="268.5" x2="840" y2="268.5" stroke="#333" stroke-width="1"/><text x="842.5" y="272.9" textLength="36.7" lengthAdjust="spacingAndGlyphs">66.917</text><line x1="836" y1="298.5" x2="840" y2="298.5" stroke="#333" stroke-width="1"/><text x="842.5" y="302.9" textLength="36.7" lengthAdjust="spacingAndGlyphs">66.092</text><line x1="836" y1="328.5" x2="840" y2="328.5" stroke="#333" stroke-width="1"/><text x="842.5" y="332.9" textLength="36.7" lengthAdjust="spacingAndGlyphs">65.268</text><line x1="836" y1="358.5" x2="840" y2="358.5" stroke="#333" stroke-width="1"/><text x="842.5" y="362.9" textLength="36.7" lengthAdjust="spacingAndGlyphs">64.443</text><line x1="836" y1="388.5" x2="840" y2="388.5" stroke="#333" stroke-width="1"/><text x="842.5" y="392.9" textLength="36.7" lengthAdjust="spacingAndGlyphs">63.619</text><line x1="836" y1="418.5" x2="840" y2="418.5" stroke="#333" stroke-width="1"/><text x="842.5" y="422.9" textLength="36.7" lengthAdjust="spacingAndGlyphs">62.794</text><line x1="836" y1="448.5" x2="840" y2="448.5" stroke="#333" stroke-width="1"/><text x="842.5" y="452.9" textLength="36.7" lengthAdjust="spacingAndGlyphs">61.970</text><line x1="836" y1="478.5" x2="840" y2="478.5" stroke="#333" stroke-width="1"/><text x="842.5" y="482.9" textLength="36.7" lengthAdjust="spacingAndGlyphs">61.145</text><line x1="836" y1="508.5" x2="840" y2="508.5" stroke="#333" stroke-width="1"/><text x="842.5" y="512.9" textLength="36.7" lengthAdjust="spacingAndGlyphs">60.321</text>
<line x1="836" y1="548.5" x2="840" y2="548.5" stroke="#333" stroke-width="1"/><text x="842.5" y="552.9" textLength="30.02" lengthAdjust="spacingAndGlyphs">1.355</text><line x1="836" y1="578.5" x2="840" y2="578.5" stroke="#333" stroke-width="1"/><text x="842.5" y="582.9" textLength="30.02" lengthAdjust="spacingAndGlyphs">0.755</text><line x1="836" y1="608.5" x2="840" y2="608.5" stroke="#333" stroke-width="1"/><text x="842.5" y="612.9" textLength="30.02" lengthAdjust="spacingAndGlyphs">0.156</text><line x1="836" y1="638.5" x2="840" y2="638.5" stroke="#333" stroke-width="1"/><text x="842.5" y="642.9" textLength="34.02" lengthAdjust="spacingAndGlyphs">-0.444</text>
</g>
<rect x="837" y="425.5" width="68" height="17.5" fill="#f01400"/>
<line x1="837" y1="434.5" x2="841" y2="434.5" stroke="#fff" stroke-width="1"/>
<text x="842.8" y="438.6" font-size="13.2" fill="#fff" textLength="36.6" lengthAdjust="spacingAndGlyphs">62.350</text>
<!-- info rows -->
<g font-size="13.5">
<g font-size="12.5" fill="#333"><text x="17.1" y="110.6">开:</text><text x="88.9" y="110.6">高:</text><text x="160.4" y="110.6">低:</text><text x="231.7" y="110.6">收:</text></g>
<g font-size="14" fill="#d03f3d">
<text x="36.1" y="111" textLength="40.5" lengthAdjust="spacingAndGlyphs">62.310</text>
<text x="107.1" y="111" textLength="40.5" lengthAdjust="spacingAndGlyphs">62.870</text>
<text x="178.1" y="111" textLength="40.5" lengthAdjust="spacingAndGlyphs">61.780</text>
<text x="249.6" y="111" textLength="40.8" lengthAdjust="spacingAndGlyphs">62.350</text>
</g>
<text x="17.2" y="128.6" fill="#dd6b95" textLength="79.5" lengthAdjust="spacingAndGlyphs">MA5: 61.820</text>
<text x="109.2" y="128.6" fill="#40bcc8" textLength="87" lengthAdjust="spacingAndGlyphs">MA10: 62.238</text>
<text x="208.7" y="128.6" fill="#a95ab5" textLength="87.2" lengthAdjust="spacingAndGlyphs">MA20: 62.924</text>
<text x="16.8" y="533.8" fill="#d9403f" textLength="73" lengthAdjust="spacingAndGlyphs">MACD:0.000</text>
<text x="101.6" y="533.8" fill="#4a90d9" textLength="61.5" lengthAdjust="spacingAndGlyphs">DIFF:0.000</text>
<text x="175.5" y="533.8" fill="#e8843a" textLength="60" lengthAdjust="spacingAndGlyphs">DEA:0.000</text>
</g>
</svg>
</body></html>
